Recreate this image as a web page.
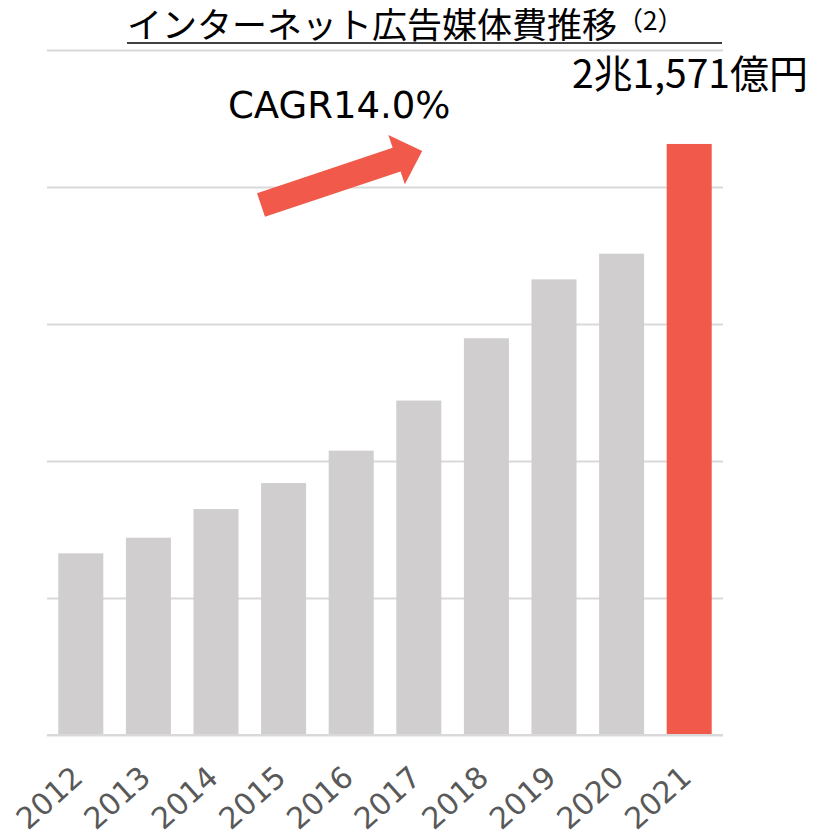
<!DOCTYPE html>
<html>
<head>
<meta charset="utf-8">
<script src="https://cdn.jsdelivr.net/npm/d3@7"></script>
<style>
  body { margin: 0; background: #fff; }
  svg { display: block; }
</style>
</head>
<body>
<div id="chart"></div>
<script>
// インターネット広告媒体費 (億円)
const years = ['2012', '2013', '2014', '2015', '2016', '2017', '2018', '2019', '2020', '2021']
const values = [6630, 7200, 8245, 9194, 10378, 12206, 14480, 16630, 17567, 21571]
const gridTicks = [0, 5000, 10000, 15000, 20000, 25000]

const titleText = 'インターネット広告媒体費推移'
const titleNote = '（2）'
const totalLabel = '2兆1,571億円'
const cagrLabel = 'CAGR14.0%'

const width = 826
const height = 838
const margin = { top: 50, left: 47, right: 103, bottom: 103 }

const svg = d3
  .select('#chart')
  .append('svg')
  .attr('width', width)
  .attr('height', height)

const xPositionScale = d3
  .scaleBand()
  .domain(years)
  .range([margin.left, width - margin.right])
  .paddingInner(0.334)
  .paddingOuter(0.167)

const yPositionScale = d3
  .scaleLinear()
  .domain([0, 25000])
  .range([height - margin.bottom, margin.top])

// gridlines
const yAxis = d3
  .axisLeft(yPositionScale)
  .tickValues(gridTicks)
  .tickSize(-(width - margin.left - margin.right))
  .tickFormat('')

svg
  .append('g')
  .attr('class', 'grid')
  .attr('transform', 'translate(' + margin.left + ',0)')
  .call(yAxis)
  .call(g => g.select('.domain').remove())
  .call(g => g.selectAll('line').attr('stroke', '#d9d9d9').attr('stroke-width', 2))

// bars
svg
  .selectAll('.bar')
  .data(years)
  .enter()
  .append('rect')
  .attr('class', 'bar')
  .attr('x', d => xPositionScale(d))
  .attr('width', xPositionScale.bandwidth())
  .attr('y', (d, i) => yPositionScale(values[i]))
  .attr('height', (d, i) => yPositionScale(0) - yPositionScale(values[i]))
  .attr('fill', (d, i) => (i === years.length - 1 ? '#f15a4a' : '#d0cece'))

// baseline drawn over bars
svg
  .append('line')
  .attr('x1', margin.left)
  .attr('x2', width - margin.right)
  .attr('y1', yPositionScale(0))
  .attr('y2', yPositionScale(0))
  .attr('stroke', '#d9d9d9')
  .attr('stroke-width', 2)

// year labels, rotated
svg
  .selectAll('.year-label')
  .data(years)
  .enter()
  .append('text')
  .attr('class', 'year-label')
  .attr('text-anchor', 'end')
  .attr(
    'transform',
    d =>
      'translate(' +
      (xPositionScale(d) + xPositionScale.bandwidth() / 2 + 4) +
      ',' +
      (yPositionScale(0) + 45) +
      ') rotate(-42)'
  )
  .attr('fill', '#595959')
  .attr('font-family', '"DejaVu Sans", Verdana, sans-serif')
  .attr('font-size', 30)
  .text(d => d)

// title
const title = svg
  .append('text')
  .attr('x', 127)
  .attr('y', 38)
  .attr('font-family', '"Noto Sans CJK JP", sans-serif')
  .attr('font-size', 35)
  .attr('fill', '#000')
title.append('tspan').text(titleText)
title
  .append('tspan')
  .attr('font-size', 26)
  .attr('dy', -8)
  .text(titleNote)

svg
  .append('line')
  .attr('x1', 127)
  .attr('x2', 722)
  .attr('y1', 43)
  .attr('y2', 43)
  .attr('stroke', '#000')
  .attr('stroke-width', 1.5)

// total label above last bar
svg
  .append('text')
  .attr('x', 808)
  .attr('y', 88)
  .attr('text-anchor', 'end')
  .attr('font-family', '"Noto Sans CJK JP", sans-serif')
  .attr('font-size', 39)
  .attr('fill', '#000')
  .text(totalLabel)

// CAGR label
svg
  .append('text')
  .attr('x', 228)
  .attr('y', 118)
  .attr('font-family', '"DejaVu Sans", Verdana, sans-serif')
  .attr('font-size', 37)
  .attr('fill', '#000')
  .text(cagrLabel)

// arrow
const arrow = d3.path()
arrow.moveTo(0, -12.5)
arrow.lineTo(143, -12.5)
arrow.lineTo(143, -26)
arrow.lineTo(170, 0)
arrow.lineTo(143, 26)
arrow.lineTo(143, 12.5)
arrow.lineTo(0, 12.5)
arrow.closePath()

svg
  .append('path')
  .attr('d', arrow.toString())
  .attr('transform', 'translate(261,205) rotate(-18.5)')
  .attr('fill', '#f15a4a')
</script>
</body>
</html>
